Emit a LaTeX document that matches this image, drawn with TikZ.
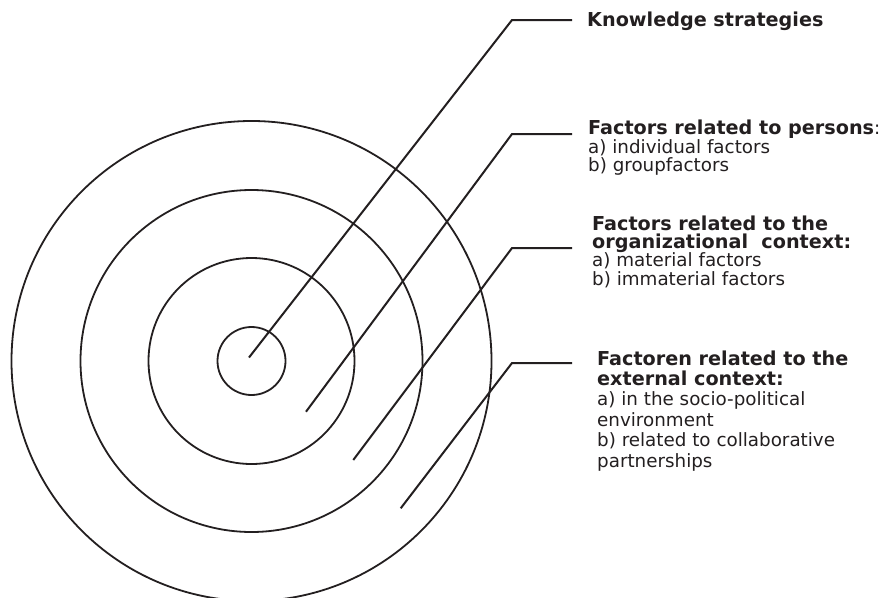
\documentclass[tikz,border=0pt]{standalone}
\usepackage{fontspec}
\setmainfont{DejaVu Sans}
\definecolor{ink}{HTML}{231F20}
\newcommand{\hd}[1]{{\fontsize{19.2}{\baselineskip}\selectfont\bfseries #1}}
\begin{document}
\begin{tikzpicture}[x=1pt,y=-1pt,
  ring/.style={draw=ink,line width=1.8pt},
  leader/.style={draw=ink,line width=2pt},
  lbl/.style={anchor=base west,inner sep=0pt,align=left,text=ink}]
\useasboundingbox (0,0) rectangle (885,597);
\clip (0,0) rectangle (885,597);
\coordinate (c) at (251.5,361);
\draw[ring] (c) circle[radius=34];
\draw[ring] (c) circle[radius=103];
\draw[ring] (c) circle[radius=171];
\draw[ring] (c) circle[radius=240];
% labels (anchor = baseline of the last line)
\node[lbl,font=\fontsize{18.3}{18.5}\selectfont] (t1) at (587,27) {\hd{Knowledge strategies}};
\node[lbl,font=\fontsize{18.3}{18.7}\selectfont] (t2) at (588,171.7) {\hd{Factors related to persons}:\\a) individual factors\\b) groupfactors};
\node[lbl,font=\fontsize{18.3}{18.1}\selectfont] (t3) at (592,285) {\hd{Factors related to the}\\\hd{organizational\ \ context:}\\a) material factors\\b) immaterial factors};
\node[lbl,font=\fontsize{18.3}{20.4}\selectfont] (t4) at (597,467) {\hd{Factoren related to the}\\\hd{external context:}\\a) in the socio-political\\environment\\b) related to collaborative\\partnerships};
% leader coordinates
\coordinate (s1) at (249,357.5);
\coordinate (k1) at (512,20);
\coordinate (e1) at (572,20);
\coordinate (s2) at (306,411.7);
\coordinate (k2) at (512,134);
\coordinate (e2) at (572,134);
\coordinate (s3) at (353.3,460);
\coordinate (k3) at (512,248);
\coordinate (e3) at (572,248);
\coordinate (s4) at (400.7,508.3);
\coordinate (k4) at (512,363);
\coordinate (e4) at (572,363);
\draw[leader] (s1) -- (k1) -- (e1);
\draw[leader] (s2) -- (k2) -- (e2);
\draw[leader] (s3) -- (k3) -- (e3);
\draw[leader] (s4) -- (k4) -- (e4);
\end{tikzpicture}
\end{document}
